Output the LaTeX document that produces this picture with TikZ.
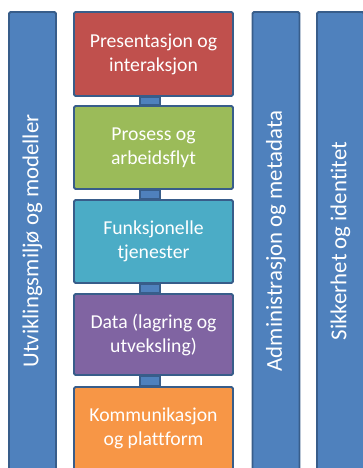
\documentclass[tikz,border=0pt]{standalone}
\usepackage{fontspec}
\setmainfont{Carlito}[Ligatures={NoCommon}]
\usetikzlibrary{backgrounds}
\definecolor{edgeblue}{HTML}{385D8A}
\definecolor{barblue}{HTML}{4F81BD}
\definecolor{layred}{HTML}{C0504D}
\definecolor{laygreen}{HTML}{9BBB59}
\definecolor{laycyan}{HTML}{4BACC6}
\definecolor{laypurple}{HTML}{8064A2}
\definecolor{layorange}{HTML}{F79646}
\tikzset{
  pillar/.style={draw=edgeblue, fill=barblue, line width=1.8pt, rounded corners=1.5pt,
    rotate=90, minimum width=458pt, minimum height=47pt, inner sep=0pt,
    text=white, font=\fontsize{22.8}{27}\selectfont},
  layer/.style={draw=edgeblue, line width=1.8pt, rounded corners=1.5pt,
    minimum width=159pt, inner sep=0pt, align=center,
    text=white, font=\fontsize{19.7}{24}\selectfont},
  link/.style={draw=edgeblue, fill=barblue, line width=1.5pt}
}
\begin{document}
\begin{tikzpicture}[x=1pt, y=-1pt]
  \useasboundingbox (0,0) rectangle (363,468);
  % vertical cross-cutting pillars
  \node[pillar] (dev)  at (32.5,241) {Utviklingsmiljø og modeller};
  \node[pillar] (adm)  at (276,241)  {Administrasjon og metadata};
  \node[pillar] (sec)  at (340.5,241) {Sikkerhet og identitet};
  % stacked layers
  \node[layer, fill=layred,    minimum height=84pt] (pres) at (153.5,54)    {Presentasjon og\\interaksjon};
  \node[layer, fill=laygreen,  minimum height=83pt] (proc) at (153.5,147.5) {Prosess og\\arbeidsflyt};
  \node[layer, fill=laycyan,   minimum height=83pt] (func) at (153.5,241.5) {Funksjonelle\\tjenester};
  \node[layer, fill=laypurple, minimum height=81pt] (data) at (153.5,334.5) {Data (lagring og\\utveksling)};
  \node[layer, fill=layorange, minimum height=83pt] (comm) at (153.5,428.5) {Kommunikasjon\\og plattform};
  % short links between neighbouring layers
  \begin{scope}[on background layer]
    \draw[link] ([xshift=-13.5pt]pres.south) rectangle ([xshift=6.5pt]proc.north);
    \draw[link] ([xshift=-13.5pt]proc.south) rectangle ([xshift=6.5pt]func.north);
    \draw[link] ([xshift=-13.5pt]func.south) rectangle ([xshift=6.5pt]data.north);
    \draw[link] ([xshift=-13.5pt]data.south) rectangle ([xshift=6.5pt]comm.north);
  \end{scope}
\end{tikzpicture}
\end{document}
